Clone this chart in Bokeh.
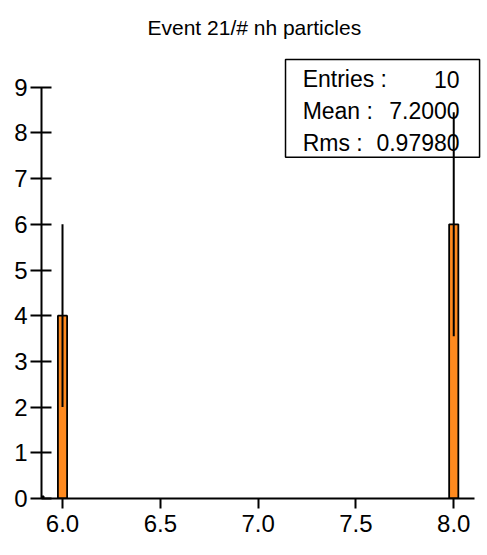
import math
from bokeh.plotting import figure
from bokeh.models import Range1d, FixedTicker, ColumnDataSource
from bokeh.embed import file_html
from bokeh.resources import INLINE
from bokeh.core.properties import value

# ---- data ----
title_text = "Event 21/# nh particles"
bin_centers = [6.0, 8.0]
counts = [4, 6]
bin_width = 0.047
x_ticks = [6.0, 6.5, 7.0, 7.5, 8.0]
x_tick_labels = ["6.0", "6.5", "7.0", "7.5", "8.0"]
y_ticks = [0, 1, 2, 3, 4, 5, 6, 7, 8, 9]
stat_names = ["Entries :", "Mean :", "Rms :"]
stat_values = ["10", "7.2000", "0.97980"]

FONT = "Liberation Sans"

x_start, x_end = 5.8926, 8.147
y_start, y_end = 0.0, 9.694

p = figure(width=486, height=543, output_backend="svg", toolbar_location=None,
           x_range=Range1d(x_start, x_end), y_range=Range1d(y_start, y_end),
           min_border_left=41, min_border_right=4, min_border_top=55, min_border_bottom=45)
p.background_fill_color = "white"
p.border_fill_color = "white"
p.outline_line_color = None
p.xgrid.visible = False
p.ygrid.visible = False

p.title.text = title_text
p.title.text_font = FONT
p.title.text_font_size = "21px"
p.title.text_font_style = "normal"
p.title.text_color = "black"
p.title.align = "left"
p.title.offset = 106
p.title.vertical_align = "top"
p.title.standoff = 30

# axes
xa = p.xaxis[0]
xa.ticker = FixedTicker(ticks=x_ticks)
xa.major_label_overrides = {t: l for t, l in zip(x_ticks, x_tick_labels)}
xa.bounds = (x_start, 8.106)
xa.axis_line_width = 2
xa.major_tick_line_width = 2
xa.major_tick_in = 0
xa.major_tick_out = 10
xa.minor_tick_line_color = None
xa.major_label_standoff = 6
xa.major_label_text_font = FONT
xa.major_label_text_font_size = "24px"
xa.major_label_text_color = "black"

ya = p.yaxis[0]
ya.ticker = FixedTicker(ticks=y_ticks)
ya.bounds = (0, 9)
ya.axis_line_width = 2
ya.major_tick_line_width = 2
ya.major_tick_in = 10
ya.major_tick_out = 11
ya.minor_tick_line_color = None
ya.major_label_standoff = 3
ya.major_label_text_font = FONT
ya.major_label_text_font_size = "24px"
ya.major_label_text_color = "black"

# bars
src = ColumnDataSource(dict(
    left=[c - bin_width / 2 for c in bin_centers],
    right=[c + bin_width / 2 for c in bin_centers],
    top=counts,
    bottom=[0] * len(counts),
    x=bin_centers,
    lo=[c - math.sqrt(c) for c in counts],
    hi=[c + math.sqrt(c) for c in counts],
))
p.quad(left="left", right="right", top="top", bottom="bottom", source=src,
       fill_color="#ff8a1f", line_color="black", line_width=1.8)
p.segment(x0="x", y0="lo", x1="x", y1="hi", source=src, line_color="black", line_width=2)

# underflow marker at axis corner
p.scatter(x=[x_start], y=[0], marker="square", size=5, color="black")

# stats box
box_l, box_r, box_t, box_b = 7.140, 8.132, 9.607, 7.467
p.quad(left=[box_l], right=[box_r], top=[box_t], bottom=[box_b],
       fill_alpha=0, line_color="black", line_width=1.5)
row_y = [9.175, 8.481, 7.79]
p.text(x=[7.2275] * 3, y=row_y, text=stat_names, text_font=value(FONT),
       text_font_size="23px", text_align="left", text_baseline="alphabetic", text_color="black")
p.text(x=[8.0297] * 3, y=row_y, text=stat_values, text_font=value(FONT),
       text_font_size="23px", text_align="right", text_baseline="alphabetic", text_color="black")

open("out.html", "w").write(file_html(p, INLINE))
